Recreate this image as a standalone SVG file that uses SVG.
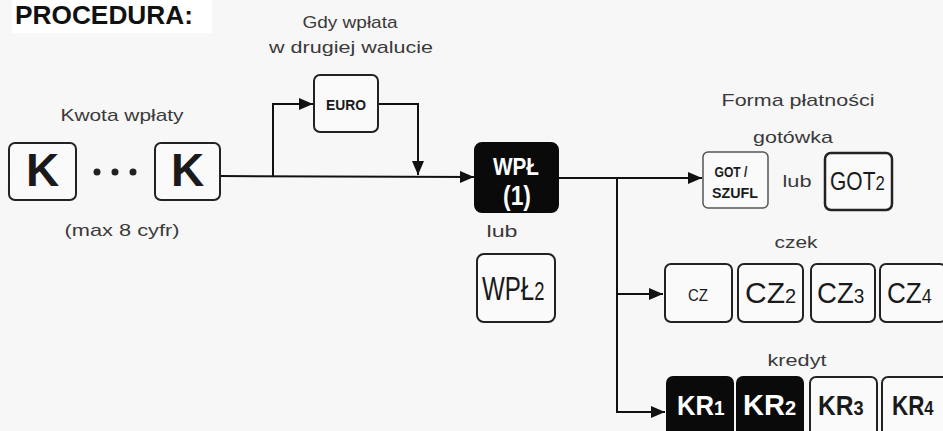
<svg xmlns="http://www.w3.org/2000/svg" width="943" height="431" viewBox="0 0 943 431">
<defs>
<marker id="ah" viewBox="0 0 14 12" refX="14" refY="6" markerWidth="14" markerHeight="12" markerUnits="userSpaceOnUse" orient="auto"><path d="M0,0 L14,6 L0,12 z" fill="#111"/></marker>
</defs>
<style>
.key{fill:#fafafa;stroke:#222;stroke-width:2}
.keyb{fill:#0a0a0a;stroke:#0a0a0a;stroke-width:2}
.lbl{font-family:"Liberation Sans",Arial,sans-serif;font-size:17px;fill:#3a3a3a;text-anchor:middle}
.kt{font-family:"Liberation Sans",Arial,sans-serif;fill:#1a1a1a}
.b{font-weight:bold}
.w{fill:#fff}
.sub{font-size:20px}
.conn{stroke:#111;stroke-width:2;fill:none}
</style>
<rect x="0" y="0" width="943" height="431" fill="#f7f7f7"/>
<rect x="12" y="0" width="200" height="33" fill="#fff"/>
<text x="15" y="24" font-family="Liberation Sans, Arial, sans-serif" font-size="26" font-weight="bold" fill="#111" textLength="178" lengthAdjust="spacingAndGlyphs">PROCEDURA:</text>

<g id="labels">
<text class="lbl" x="350" y="28" textLength="95" lengthAdjust="spacingAndGlyphs">Gdy wpłata</text>
<text class="lbl" x="351" y="53" textLength="164" lengthAdjust="spacingAndGlyphs">w drugiej walucie</text>
<text class="lbl" x="122" y="121" textLength="123" lengthAdjust="spacingAndGlyphs">Kwota wpłaty</text>
<text class="lbl" x="122" y="236" textLength="115" lengthAdjust="spacingAndGlyphs">(max 8 cyfr)</text>
<text class="lbl" x="502" y="237" textLength="31" lengthAdjust="spacingAndGlyphs">lub</text>
<text class="lbl" x="798" y="106" textLength="153" lengthAdjust="spacingAndGlyphs">Forma płatności</text>
<text class="lbl" x="793" y="143" textLength="80" lengthAdjust="spacingAndGlyphs">gotówka</text>
<text class="lbl" x="797" y="187" textLength="29" lengthAdjust="spacingAndGlyphs">lub</text>
<text class="lbl" x="796" y="248" textLength="43" lengthAdjust="spacingAndGlyphs">czek</text>
<text class="lbl" x="797" y="366" textLength="59" lengthAdjust="spacingAndGlyphs">kredyt</text>
</g>

<g id="connectors">
<path class="conn" d="M220,176 L474,177" marker-end="url(#ah)"/>
<path class="conn" d="M273,176 L273,104 L313,104" marker-end="url(#ah)"/>
<path class="conn" d="M378,104 L418,104 L418,175" marker-end="url(#ah)"/>
<path class="conn" d="M558,178 L702,178" marker-end="url(#ah)"/>
<path class="conn" d="M617,178 L617,412 L665,412" marker-end="url(#ah)"/>
<path class="conn" d="M617,294 L663,294" marker-end="url(#ah)"/>
</g>

<g id="k1"><rect class="key" x="9" y="143" width="67" height="57" rx="6"/><text class="kt b" x="42.5" y="186" font-size="46" text-anchor="middle">K</text></g>
<g id="dots"><circle cx="97" cy="172" r="3.5" fill="#222"/><circle cx="115" cy="172" r="3.5" fill="#222"/><circle cx="133" cy="172" r="3.5" fill="#222"/></g>
<g id="k2"><rect class="key" x="155" y="143" width="65" height="57" rx="6"/><text class="kt b" x="187.5" y="186" font-size="46" text-anchor="middle">K</text></g>

<g id="euro"><rect class="key" x="314" y="75" width="64" height="57" rx="6"/><text class="kt b" x="346" y="110" font-size="14" text-anchor="middle" textLength="40" lengthAdjust="spacingAndGlyphs">EURO</text></g>

<g id="wpl1"><rect class="keyb" x="475" y="143" width="83" height="69" rx="7"/>
<text class="kt b w" x="516" y="175" font-size="24" text-anchor="middle" textLength="46" lengthAdjust="spacingAndGlyphs">WPŁ</text>
<text class="kt b w" x="517" y="205" font-size="28" text-anchor="middle" textLength="28" lengthAdjust="spacingAndGlyphs">(1)</text></g>

<g id="wpl2"><rect class="key" x="477" y="254" width="78" height="68" rx="7"/>
<text class="kt" transform="translate(482,300) scale(0.71,1)" font-size="34">WPŁ<tspan font-size="26">2</tspan></text></g>

<g id="got"><rect class="key" x="703" y="152" width="65" height="56" rx="5" style="stroke:#555;stroke-width:1.5"/>
<text class="kt b" x="731" y="177" font-size="14" text-anchor="middle" textLength="33" lengthAdjust="spacingAndGlyphs">GOT /</text>
<text class="kt b" x="735" y="198" font-size="14" text-anchor="middle" textLength="46" lengthAdjust="spacingAndGlyphs">SZUFL</text></g>

<g id="got2"><rect class="key" x="825" y="153" width="67" height="57" rx="6" style="stroke-width:2.5"/>
<text class="kt" transform="translate(830,190) scale(0.84,1)" font-size="25">GOT<tspan class="sub">2</tspan></text></g>

<g id="cz1"><rect class="key" x="665" y="264" width="67" height="58" rx="6"/><text class="kt" x="698" y="301" font-size="17" text-anchor="middle" textLength="20" lengthAdjust="spacingAndGlyphs">CZ</text></g>
<g id="cz2"><rect class="key" x="738" y="264" width="65" height="58" rx="6"/><text class="kt" x="745" y="303" font-size="30">CZ<tspan class="sub">2</tspan></text></g>
<g id="cz3"><rect class="key" x="811" y="264" width="64" height="58" rx="6"/><text class="kt" transform="translate(817,303) scale(0.95,1)" font-size="29">CZ<tspan class="sub">3</tspan></text></g>
<g id="cz4"><rect class="key" x="880" y="264" width="66" height="58" rx="6"/><text class="kt" transform="translate(887,303) scale(0.9,1)" font-size="29">CZ<tspan class="sub">4</tspan></text></g>

<g id="kr1"><rect class="keyb" x="667" y="377" width="66" height="62" rx="6"/><text class="kt b w" transform="translate(677,415) scale(0.95,1)" font-size="27">KR<tspan class="sub">1</tspan></text></g>
<g id="kr2"><rect class="keyb" x="737" y="377" width="66" height="62" rx="6"/><text class="kt b w" transform="translate(743,415)" font-size="29">KR<tspan class="sub">2</tspan></text></g>
<g id="kr3"><rect class="key" x="810" y="377" width="67" height="62" rx="6"/><text class="kt b" transform="translate(818,415) scale(0.91,1)" font-size="27">KR<tspan class="sub">3</tspan></text></g>
<g id="kr4"><rect class="key" x="882" y="377" width="66" height="62" rx="6"/><text class="kt b" transform="translate(892,415) scale(0.83,1)" font-size="27">KR<tspan class="sub">4</tspan></text></g>
</svg>
